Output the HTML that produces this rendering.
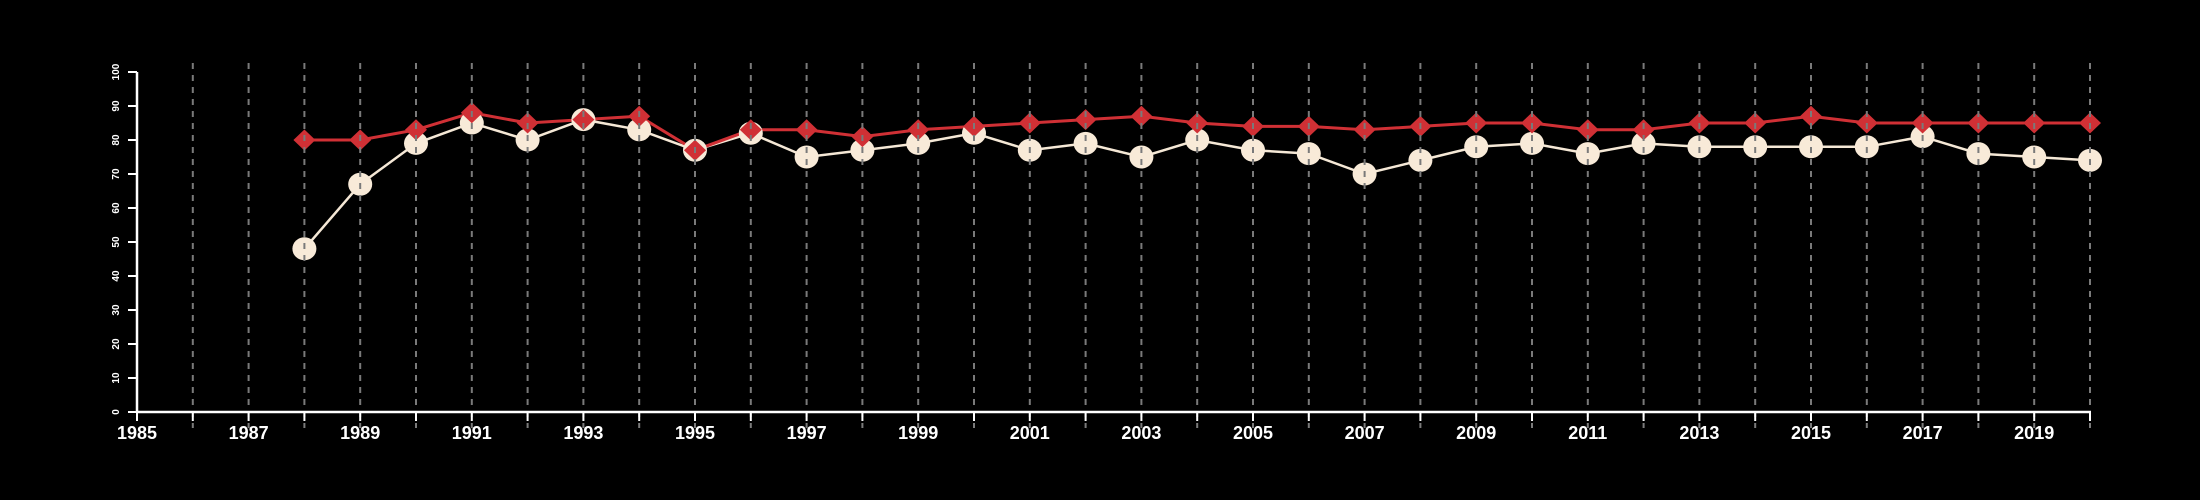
<!DOCTYPE html>
<html><head><meta charset="utf-8"><style>
html,body{margin:0;padding:0;background:#000;}
svg{display:block;}
</style></head><body>
<svg id="chart" width="2200" height="500" viewBox="0 0 2200 500" xmlns="http://www.w3.org/2000/svg" style="background:#000">
<g id="lines"></g>
<g id="marks"></g>
<g id="grid"></g>
<g id="axes"></g>
</svg>
<script>
const years = [1988,1989,1990,1991,1992,1993,1994,1995,1996,1997,1998,1999,2000,2001,2002,2003,2004,2005,2006,2007,2008,2009,2010,2011,2012,2013,2014,2015,2016,2017,2018,2019,2020];
const whiteSeries = [48,67,79,85,80,86,83,77,82,75,77,79,82,77,79,75,80,77,76,70,74,78,79,76,79,78,78,78,78,81,76,75,74];
const redSeries = [80,80,83,88,85,86,87,77,83,83,81,83,84,85,86,87,85,84,84,83,84,85,85,83,83,85,85,87,85,85,85,85,85];
const yTicks = [0,10,20,30,40,50,60,70,80,90,100];
const xLabels = [1985,1987,1989,1991,1993,1995,1997,1999,2001,2003,2005,2007,2009,2011,2013,2015,2017,2019];
const xMin = 1985, xMax = 2020;

const NS = "http://www.w3.org/2000/svg";
function X(v){ return 137 + (v - xMin) * (2090 - 137) / (xMax - xMin); }
function Y(v){ return 412 - v * 3.4; }
function mk(tag, attrs, parent){ const e = document.createElementNS(NS, tag); for (const k in attrs) e.setAttribute(k, attrs[k]); parent.appendChild(e); return e; }

const lines = document.getElementById('lines');
const marks = document.getElementById('marks');
const grid = document.getElementById('grid');
const axes = document.getElementById('axes');

for (let yr = xMin; yr <= xMax; yr++) {
  if (yr > xMin) {
    const g = mk('line', {x1: X(yr), x2: X(yr), y1: 63, y2: 428, stroke: '#7a7a7a', 'stroke-width': 2, 'stroke-dasharray': '6,6'}, grid);
    
    
  }
  const t = mk('line', {x1: X(yr), x2: X(yr), y1: 412, y2: 421, stroke: '#fff', 'stroke-width': 2}, axes);
  
  
}

const wp = years.map((y, i) => X(y) + ',' + Y(whiteSeries[i])).join(' ');
const wl = mk('polyline', {points: wp, fill: 'none', stroke: '#f5e8d6', 'stroke-width': 2.5}, lines);


const rp = years.map((y, i) => X(y) + ',' + Y(redSeries[i])).join(' ');
const rl = mk('polyline', {points: rp, fill: 'none', stroke: '#d03035', 'stroke-width': 3}, lines);



years.forEach((y, i) => {
  const c = mk('ellipse', {cx: X(y), cy: Y(whiteSeries[i]), rx: 12, ry: 11.5, fill: '#f8ead8'}, marks);
  
  
});
years.forEach((y, i) => {
  const cx = X(y), cy = Y(redSeries[i]);
  const d = mk('polygon', {points: `${cx},${cy-10.5} ${cx+11},${cy} ${cx},${cy+10.5} ${cx-11},${cy}`, fill: '#d03035'}, marks);
  
  
});

const xa = mk('line', {x1: X(xMin) - 1, x2: X(xMax) + 1, y1: 412, y2: 412, stroke: '#fff', 'stroke-width': 2.5}, axes);


const ya = mk('line', {x1: 137, x2: 137, y1: Y(100), y2: 412, stroke: '#fff', 'stroke-width': 2.5}, axes);



yTicks.forEach(v => {
  const t = mk('line', {x1: 128, x2: 137, y1: Y(v), y2: Y(v), stroke: '#fff', 'stroke-width': 2}, axes);
  
  
  const tx = mk('text', {x: 0, y: 0, transform: `translate(119,${Y(v)}) rotate(-90)`, 'text-anchor': 'middle', fill: '#fff', 'font-size': 10, 'font-weight': 'bold', 'font-family': 'Liberation Sans, sans-serif'}, axes);
  tx.textContent = v;
  
  
});

xLabels.forEach(v => {
  const tx = mk('text', {x: X(v), y: 439, 'text-anchor': 'middle', fill: '#fff', 'font-size': 18, 'font-weight': 'bold', 'font-family': 'Liberation Sans, sans-serif'}, axes);
  tx.textContent = v;
  
  
});
</script>
</body></html>
